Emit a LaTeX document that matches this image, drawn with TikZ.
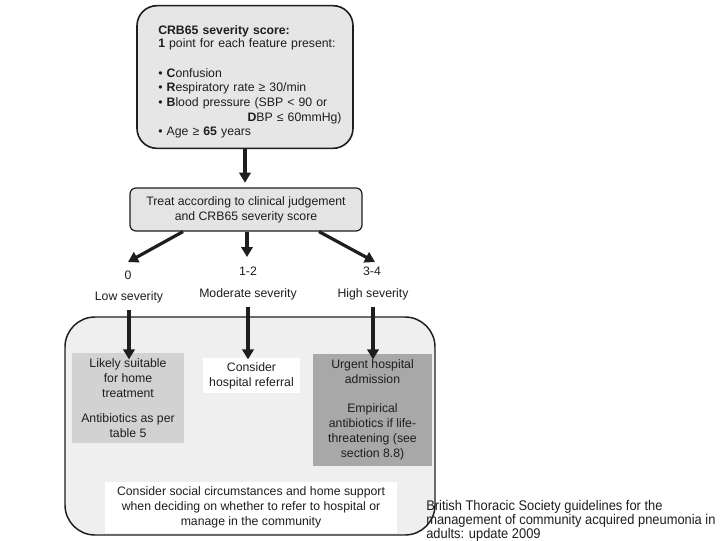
\documentclass[tikz,border=0pt]{standalone}
\usepackage{fontspec}
\setmainfont{Liberation Sans}
\newfontfamily\narrowfont[FakeStretch=0.92]{Liberation Sans}
\usetikzlibrary{arrows.meta,calc}
\definecolor{topfill}{HTML}{E6E6E6}
\definecolor{treatfill}{HTML}{E4E4E4}
\definecolor{bigfill}{HTML}{EFEFEF}
\definecolor{lowfill}{HTML}{D2D2D2}
\definecolor{highfill}{HTML}{A8A8A8}
\definecolor{ink}{HTML}{1E1E1E}
\begin{document}
\begin{tikzpicture}[x=0.75pt,y=-0.75pt,
  every node/.style={font=\fontsize{9.2}{11.25}\selectfont, text=ink},
  arr/.style={draw=ink, line width=2.4pt, -{Triangle[length=7.5pt,width=8.5pt]}},
  plainbox/.style={draw=none, inner sep=0pt, align=center},
  lbl/.style={inner sep=0pt}
]
\useasboundingbox (0,0) rectangle (720,540);
\fill[white] (0,0) rectangle (720,540);

% top box
\node[draw=ink, line width=1.2pt, fill=topfill, rounded corners=15pt,
      minimum width=162pt, minimum height=107pt, inner sep=0pt] (top) at (245,77) {};
\node[anchor=north west, align=left, inner sep=0pt, text width=140pt,
      font=\fontsize{9.2}{11}\selectfont] (toptext) at (158,25) {%
\textbf{CRB65 severity score:}\\[-1.2pt]
\textbf{1} point for each feature present:\\[11.5pt]
• \textbf{C}onfusion\\
• \textbf{R}espiratory rate ≥ 30/min\\
• \textbf{B}lood pressure (SBP < 90 or\\
\hspace*{67pt}\textbf{D}BP ≤ 60mmHg)\\
• Age ≥ \textbf{65} years};

% treat box
\node[draw=ink, line width=0.9pt, fill=treatfill, rounded corners=4.5pt,
      minimum width=174pt, minimum height=32.25pt, align=center, inner sep=0pt] (treat) at (246,209.5)
  {Treat according to clinical judgement\\and CRB65 severity score};

% labels
\node[lbl] (n0) at (128,275) {0};
\node[lbl] (n12) at (248,271) {1-2};
\node[lbl] (n34) at (372,271) {3-4};
\node[lbl] (low) at (129,297) {Low severity};
\node[lbl] (mod) at (248,294) {Moderate severity};
\node[lbl] (high) at (373,294) {High severity};

% big box
\node[draw=ink, line width=1.1pt, fill=bigfill, rounded corners=22.5pt,
      minimum width=277.5pt, minimum height=163.5pt, inner sep=0pt] (big) at (250,426) {};

\node[plainbox, fill=lowfill, minimum width=84pt, minimum height=67.5pt] (lbox) at (128,398)
  {Likely suitable\\for home\\treatment\\[7.5pt]Antibiotics as per\\table 5};
\node[plainbox, fill=white, minimum width=72.75pt, minimum height=26.25pt] (mbox) at (251.5,375.5)
  {Consider\\hospital referral};
\node[plainbox, fill=highfill, minimum width=89.25pt, minimum height=84pt] (rbox) at (372.5,410)
  {Urgent hospital\\admission\\[10.5pt]Empirical\\antibiotics if life-\\threatening (see\\section 8.8)};
\node[plainbox, fill=white, minimum width=219pt, minimum height=38.25pt] (bbox) at (251,507)
  {Consider social circumstances and home support\\when deciding on whether to refer to hospital or\\manage in the community};

% footnote
\node[anchor=north west, align=left, inner sep=0pt,
      font=\narrowfont\fontsize{10.5}{10.6}\selectfont] (foot) at (426,500)
  {British Thoracic Society guidelines for the\\management of community acquired pneumonia in\\adults: update 2009};

% connectors
\coordinate (a0) at (183,0);
\coordinate (a34) at (319,0);
\coordinate (t0) at (128,262);
\coordinate (t12) at (247,257);
\coordinate (t34) at (375,262);
\draw[arr, shorten >=3.5pt] (top.south) -- (top.south |- treat.north);
\draw[arr] (treat.south -| a0) -- (t0);
\draw[arr] (treat.south -| t12) -- (t12);
\draw[arr] (treat.south -| a34) -- (t34);
\draw[arr] ([yshift=-5pt]low.south) -- ([yshift=-5pt]low.south |- lbox.north);
\draw[arr] ([yshift=-5pt]mod.south) -- ([yshift=-5pt]mod.south |- lbox.north);
\draw[arr] ([yshift=-5pt]high.south) -- ([yshift=-5pt]high.south |- lbox.north);
\end{tikzpicture}
\end{document}
